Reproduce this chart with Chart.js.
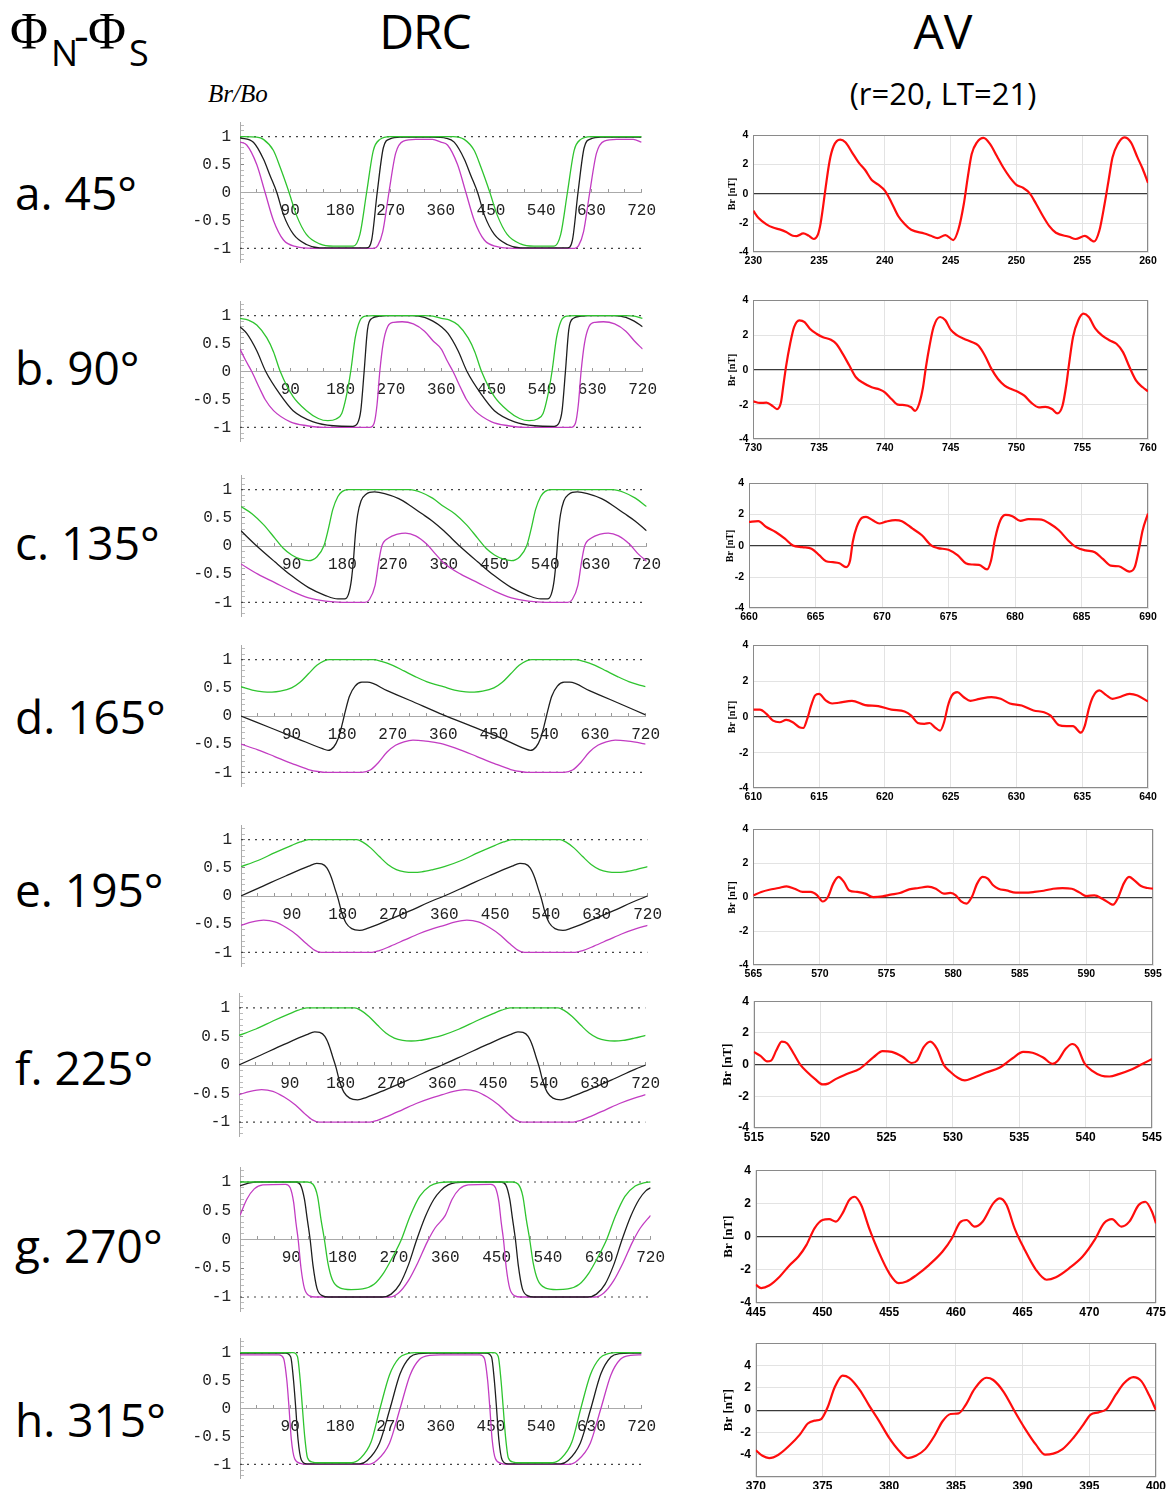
<!DOCTYPE html>
<html>
<head>
<meta charset="utf-8">
<script src="https://cdn.jsdelivr.net/npm/chart.js@4.4.1/dist/chart.umd.min.js"></script>
<style>
  body { margin: 0; background: #fff; }
  #page { position: relative; width: 1167px; height: 1489px; overflow: hidden; background: #fff; }
  .txt { position: absolute; font-family: "Open Sans", sans-serif; color: #000; line-height: 1; white-space: nowrap; }
  canvas { position: absolute; }
</style>
</head>
<body>
<div id="page">
  <div class="txt" style="left:10px; top:6px; font-family:'Liberation Serif'; font-size:52px;">Φ</div>
  <div class="txt" style="left:51px; top:35px; font-size:36px;">N</div>
  <div class="txt" style="left:74px; top:11px; font-size:46px;">-</div>
  <div class="txt" style="left:88px; top:6px; font-family:'Liberation Serif'; font-size:52px;">Φ</div>
  <div class="txt" style="left:129px; top:35px; font-size:36px;">S</div>
  <div class="txt" style="left:425px; top:7px; font-size:48px; letter-spacing:-1px; transform:translateX(-50%);">DRC</div>
  <div class="txt" style="left:943px; top:7px; font-size:48px; transform:translateX(-50%);">AV</div>
  <div class="txt" style="left:943px; top:78px; font-size:31px; transform:translateX(-50%);">(r=20, LT=21)</div>
  <div class="txt" style="left:208px; top:81px; font-family:'Liberation Serif'; font-style:italic; font-size:25px;">Br/Bo</div>
</div>
<script>
// ---- DRC curves, Br/Bo against phase (deg) ----
const greenA = [[0,1.0],[30,0.99],[42,0.95],[60,0.75],[72,0.45],[88,0],[101,-0.4],[119,-0.75],[143,-0.92],[167,-0.96],[203,-0.96],[215,-0.75],[227,0],[239,0.75],[251,0.95],[269,1.0],[382,1.0],[402,0.95],[420,0.75],[432,0.45],[448,0],[461,-0.4],[479,-0.75],[503,-0.92],[527,-0.96],[563,-0.96],[575,-0.75],[587,0],[599,0.75],[611,0.95],[629,1.0],[720,1.0]];
const blackA = [[0,0.98],[24,0.9],[42,0.6],[54,0.3],[66,0],[78,-0.4],[96,-0.75],[119,-0.93],[143,-0.99],[227,-0.99],[236,-0.85],[246,0],[257,0.8],[269,0.96],[287,0.99],[345,0.99],[370,0.97],[384,0.9],[402,0.6],[414,0.3],[426,0],[438,-0.4],[456,-0.75],[479,-0.93],[503,-0.99],[587,-0.99],[596,-0.85],[606,0],[617,0.8],[629,0.96],[647,0.99],[720,0.99]];
const magentaA = [[0,0.9],[12,0.85],[30,0.5],[45,0],[60,-0.5],[78,-0.85],[101,-0.97],[131,-1.0],[240,-1.0],[247,-0.95],[256,-0.7],[267,0],[279,0.7],[293,0.92],[315,0.95],[345,0.95],[360,0.9],[372,0.85],[390,0.5],[405,0],[420,-0.5],[438,-0.85],[461,-0.97],[491,-1.0],[600,-1.0],[607,-0.95],[616,-0.7],[627,0],[639,0.7],[653,0.92],[675,0.95],[705,0.95],[720,0.9]];

const greenB = [[0,0.95],[15,0.92],[30,0.83],[48,0.6],[60,0.35],[72,0],[95,-0.45],[119,-0.7],[140,-0.84],[157,-0.88],[172,-0.85],[182,-0.75],[190,-0.45],[198,0],[206,0.6],[214,0.9],[224,0.99],[240,1.0],[330,1.0],[345,0.99],[360,0.95],[375,0.92],[390,0.83],[408,0.6],[420,0.35],[432,0],[455,-0.45],[479,-0.7],[500,-0.84],[517,-0.88],[532,-0.85],[542,-0.75],[550,-0.45],[558,0],[566,0.6],[574,0.9],[584,0.99],[600,1.0],[690,1.0],[705,0.99],[720,0.95]];
const blackB = [[0,0.8],[12,0.68],[30,0.37],[46,0],[71,-0.4],[95,-0.7],[131,-0.9],[167,-0.97],[202,-0.98],[210,-0.93],[216,-0.7],[222,0],[228,0.75],[236,0.95],[250,0.99],[262,1.0],[309,1.0],[330,0.97],[345,0.9],[360,0.8],[372,0.68],[390,0.37],[406,0],[431,-0.4],[455,-0.7],[491,-0.9],[527,-0.97],[562,-0.98],[570,-0.93],[576,-0.7],[582,0],[588,0.75],[596,0.95],[610,0.99],[622,1.0],[669,1.0],[690,0.97],[705,0.9],[720,0.8]];
const magentaB = [[0,0.4],[10,0.2],[21,0],[35,-0.3],[45,-0.5],[60,-0.7],[90,-0.9],[120,-0.97],[150,-1.0],[232,-1.0],[240,-0.92],[245,-0.6],[250,0],[256,0.5],[264,0.8],[275,0.88],[290,0.89],[310,0.85],[330,0.72],[345,0.55],[360,0.4],[370,0.2],[381,0],[395,-0.3],[405,-0.5],[420,-0.7],[450,-0.9],[480,-0.97],[510,-1.0],[592,-1.0],[600,-0.92],[605,-0.6],[610,0],[616,0.5],[624,0.8],[635,0.88],[650,0.89],[670,0.85],[690,0.72],[705,0.55],[720,0.4]];

const greenC = [[0,0.7],[20,0.57],[40,0.38],[60,0.14],[75,-0.04],[90,-0.16],[105,-0.23],[120,-0.26],[135,-0.19],[147,0],[155,0.3],[163,0.65],[172,0.88],[180,0.97],[190,1.0],[300,1.0],[320,0.95],[340,0.85],[360,0.7],[380,0.57],[400,0.38],[420,0.14],[435,-0.04],[450,-0.16],[465,-0.23],[480,-0.26],[495,-0.19],[507,0],[515,0.3],[523,0.65],[532,0.88],[540,0.97],[550,1.0],[660,1.0],[680,0.95],[700,0.85],[720,0.7]];
const blackC = [[0,0.27],[28,0],[60,-0.28],[90,-0.53],[120,-0.74],[150,-0.88],[172,-0.94],[184,-0.94],[191,-0.85],[196,-0.6],[200,-0.2],[203,0.2],[207,0.55],[213,0.8],[222,0.92],[237,0.96],[255,0.93],[280,0.84],[300,0.72],[320,0.58],[340,0.44],[360,0.27],[388,0],[420,-0.28],[450,-0.53],[480,-0.74],[510,-0.88],[532,-0.94],[544,-0.94],[551,-0.85],[556,-0.6],[560,-0.2],[563,0.2],[567,0.55],[573,0.8],[582,0.92],[597,0.96],[615,0.93],[640,0.84],[660,0.72],[680,0.58],[700,0.44],[720,0.27]];
const magentaC = [[0,-0.32],[30,-0.5],[60,-0.65],[90,-0.8],[120,-0.92],[150,-0.98],[180,-1.0],[220,-1.0],[228,-0.95],[238,-0.7],[245,-0.25],[250,0],[262,0.14],[278,0.21],[292,0.23],[310,0.18],[330,0.03],[345,-0.14],[360,-0.3],[390,-0.5],[420,-0.65],[450,-0.8],[480,-0.92],[510,-0.98],[540,-1.0],[580,-1.0],[588,-0.95],[598,-0.7],[605,-0.25],[610,0],[622,0.14],[638,0.21],[652,0.23],[670,0.18],[690,0.03],[705,-0.14],[720,-0.27]];

const greenD = [[0,0.52],[20,0.46],[40,0.43],[55,0.425],[70,0.44],[90,0.5],[105,0.6],[120,0.75],[135,0.9],[148,0.98],[158,1.0],[235,1.0],[250,0.97],[270,0.9],[290,0.8],[310,0.7],[330,0.61],[345,0.56],[360,0.52],[380,0.46],[400,0.43],[415,0.425],[430,0.44],[450,0.5],[465,0.6],[480,0.75],[495,0.9],[508,0.98],[518,1.0],[595,1.0],[610,0.97],[630,0.9],[650,0.8],[670,0.7],[690,0.61],[705,0.56],[720,0.52]];
const blackD = [[0,0.0],[50,-0.2],[100,-0.4],[145,-0.58],[155,-0.61],[165,-0.55],[173,-0.4],[180,-0.15],[186,0.1],[193,0.35],[203,0.53],[215,0.6],[225,0.6],[260,0.45],[300,0.28],[360,0.02],[410,-0.18],[460,-0.38],[505,-0.58],[515,-0.61],[525,-0.55],[533,-0.4],[540,-0.15],[546,0.1],[553,0.35],[563,0.53],[575,0.6],[585,0.6],[620,0.45],[660,0.28],[720,0.02]];
const magentaD = [[0,-0.5],[30,-0.6],[60,-0.72],[90,-0.84],[120,-0.95],[140,-0.99],[150,-1.0],[215,-1.0],[230,-0.96],[245,-0.82],[260,-0.64],[275,-0.52],[290,-0.46],[306,-0.43],[325,-0.44],[345,-0.47],[360,-0.5],[390,-0.6],[420,-0.72],[450,-0.84],[480,-0.95],[500,-0.99],[510,-1.0],[575,-1.0],[590,-0.96],[605,-0.82],[620,-0.64],[635,-0.52],[650,-0.46],[666,-0.43],[685,-0.44],[705,-0.47],[720,-0.5]];

// rows e and f carry the same three curves
const greenE = [[0,0.52],[30,0.63],[60,0.77],[90,0.9],[105,0.96],[120,1.0],[205,1.0],[215,0.96],[230,0.85],[245,0.7],[260,0.56],[275,0.47],[290,0.43],[305,0.42],[320,0.43],[340,0.47],[360,0.52],[390,0.63],[420,0.77],[450,0.9],[465,0.96],[480,1.0],[565,1.0],[575,0.96],[590,0.85],[605,0.7],[620,0.56],[635,0.47],[650,0.43],[665,0.42],[680,0.43],[700,0.47],[720,0.52]];
const blackE = [[0,0.0],[40,0.18],[80,0.36],[120,0.53],[134,0.58],[143,0.57],[152,0.5],[160,0.33],[166,0.14],[172,-0.05],[178,-0.28],[186,-0.48],[196,-0.58],[210,-0.61],[225,-0.57],[260,-0.43],[300,-0.26],[340,-0.08],[360,0.0],[400,0.18],[440,0.36],[480,0.53],[494,0.58],[503,0.57],[512,0.5],[520,0.33],[526,0.14],[532,-0.05],[538,-0.28],[546,-0.48],[556,-0.58],[570,-0.61],[585,-0.57],[620,-0.43],[660,-0.26],[700,-0.08],[720,0.0]];
const magentaE = [[0,-0.52],[20,-0.46],[40,-0.43],[60,-0.46],[80,-0.56],[100,-0.7],[115,-0.84],[130,-0.96],[142,-1.0],[232,-1.0],[245,-0.97],[265,-0.89],[290,-0.78],[315,-0.67],[340,-0.58],[360,-0.52],[380,-0.46],[400,-0.43],[420,-0.46],[440,-0.56],[460,-0.7],[475,-0.84],[490,-0.96],[502,-1.0],[592,-1.0],[605,-0.97],[625,-0.89],[650,-0.78],[675,-0.67],[700,-0.58],[720,-0.52]];

const greenG = [[0,1.0],[118,1.0],[128,0.96],[136,0.75],[142,0.35],[148,0],[154,-0.4],[162,-0.7],[175,-0.84],[195,-0.87],[215,-0.86],[235,-0.78],[252,-0.58],[268,-0.3],[283,0],[298,0.4],[315,0.75],[333,0.93],[350,0.99],[365,1.0],[478,1.0],[488,0.96],[496,0.75],[502,0.35],[508,0],[514,-0.4],[522,-0.7],[535,-0.84],[555,-0.87],[575,-0.86],[595,-0.78],[612,-0.58],[628,-0.3],[643,0],[658,0.4],[675,0.75],[693,0.93],[710,0.99],[720,1.0]];
const blackG = [[0,0.93],[15,0.98],[30,1.0],[98,1.0],[106,0.95],[113,0.7],[118,0.35],[123,0],[128,-0.45],[135,-0.85],[145,-0.98],[155,-1.0],[250,-1.0],[265,-0.95],[280,-0.78],[295,-0.45],[310,0],[325,0.4],[340,0.7],[352,0.85],[365,0.95],[380,0.99],[395,1.0],[458,1.0],[466,0.95],[473,0.7],[478,0.35],[483,0],[488,-0.45],[495,-0.85],[505,-0.98],[515,-1.0],[610,-1.0],[625,-0.95],[640,-0.78],[655,-0.45],[670,0],[685,0.4],[700,0.7],[712,0.85],[720,0.9]];
const magentaG = [[0,0.42],[12,0.7],[25,0.88],[40,0.95],[80,0.96],[88,0.9],[94,0.65],[98,0.3],[102,0],[107,-0.5],[113,-0.85],[122,-0.98],[132,-1.0],[262,-1.0],[278,-0.93],[295,-0.72],[312,-0.4],[328,-0.05],[342,0.2],[360,0.42],[372,0.7],[385,0.88],[400,0.95],[440,0.96],[448,0.9],[454,0.65],[458,0.3],[462,0],[467,-0.5],[473,-0.85],[482,-0.98],[492,-1.0],[622,-1.0],[638,-0.93],[655,-0.72],[672,-0.4],[688,-0.05],[702,0.2],[720,0.42]];

const greenH = [[0,1.0],[95,1.0],[103,0.93],[108,0.5],[112,0],[116,-0.5],[121,-0.88],[130,-0.96],[140,-0.97],[200,-0.97],[215,-0.9],[235,-0.6],[251,0],[268,0.6],[285,0.9],[300,0.98],[315,1.0],[455,1.0],[463,0.93],[468,0.5],[472,0],[476,-0.5],[481,-0.88],[490,-0.96],[500,-0.97],[560,-0.97],[575,-0.9],[595,-0.6],[611,0],[628,0.6],[645,0.9],[660,0.98],[675,1.0],[720,1.0]];
const blackH = [[0,0.99],[82,0.99],[91,0.92],[96,0.5],[100,0],[104,-0.55],[110,-0.92],[120,-0.99],[215,-0.99],[228,-0.93],[250,-0.62],[269,0],[287,0.62],[305,0.92],[320,0.98],[340,0.99],[442,0.99],[451,0.92],[456,0.5],[460,0],[464,-0.55],[470,-0.92],[480,-0.99],[575,-0.99],[588,-0.93],[610,-0.62],[629,0],[647,0.62],[665,0.92],[680,0.98],[700,0.99],[720,0.99]];
const magentaH = [[0,0.96],[70,0.96],[78,0.9],[84,0.5],[88,0],[92,-0.55],[98,-0.9],[108,-0.98],[118,-1.0],[230,-1.0],[245,-0.93],[268,-0.62],[287,0],[305,0.6],[322,0.88],[340,0.95],[360,0.96],[430,0.96],[438,0.9],[444,0.5],[448,0],[452,-0.55],[458,-0.9],[468,-0.98],[478,-1.0],[590,-1.0],[605,-0.93],[628,-0.62],[647,0],[665,0.6],[682,0.88],[700,0.95],[720,0.96]];

const refLevels = [1, -1];
const drcXLabels = [90, 180, 270, 360, 450, 540, 630, 720];
const drcYLabels = [-1, -0.5, 0, 0.5, 1];

// ---- AV traces, Br [nT] against time ----
const avStart = [230, 730, 660, 610, 565, 515, 445, 370];
const avA = [[230,-1.15],[230.4,-1.65],[231,-2.08],[231.5,-2.3],[232,-2.42],[232.5,-2.6],[233,-2.86],[233.3,-2.88],[233.8,-2.7],[234.2,-2.85],[234.6,-3.08],[234.9,-2.8],[235.1,-2.1],[235.3,-0.9],[235.5,0.45],[235.8,2.25],[236.1,3.25],[236.6,3.7],[237,3.52],[237.5,2.84],[238,2.15],[238.5,1.63],[239,0.95],[239.5,0.63],[240,0.22],[240.5,-0.58],[241,-1.49],[241.5,-2.06],[242,-2.45],[243,-2.7],[243.5,-2.86],[244,-3.02],[244.6,-2.81],[245.2,-3.15],[245.6,-2.4],[246,-0.69],[246.3,1.13],[246.6,2.72],[247,3.52],[247.5,3.82],[248,3.4],[248.5,2.6],[249,1.8],[249.5,1.13],[250,0.62],[250.5,0.42],[251,0.05],[251.5,-0.69],[252,-1.49],[252.5,-2.2],[253,-2.65],[254,-2.93],[254.5,-3.08],[255.2,-2.86],[255.9,-3.25],[256.3,-2.52],[256.7,-0.69],[257,0.9],[257.3,2.49],[257.7,3.4],[258.2,3.86],[258.7,3.52],[259.2,2.49],[259.6,1.7],[260,0.75]];
const avB = [[730,-1.81],[730.5,-1.9],[731,-1.88],[731.5,-2.1],[731.8,-2.25],[732.1,-1.87],[732.3,-0.81],[732.5,0.25],[732.8,1.5],[733.1,2.46],[733.5,2.85],[733.9,2.75],[734.3,2.37],[734.8,2.08],[735.3,1.88],[735.9,1.73],[736.3,1.5],[736.8,0.92],[737.3,0.25],[737.8,-0.42],[738.4,-0.77],[739,-1.0],[739.6,-1.13],[740,-1.29],[740.5,-1.67],[741,-2.0],[741.5,-2.02],[742,-2.15],[742.3,-2.35],[742.6,-1.96],[742.9,-1.0],[743.1,0.06],[743.4,1.4],[743.7,2.46],[744.2,3.04],[744.6,2.85],[745,2.31],[745.5,1.98],[746,1.79],[746.6,1.6],[747.1,1.4],[747.6,0.83],[748.1,0.06],[748.6,-0.52],[749.1,-0.9],[749.6,-1.1],[750.1,-1.25],[750.6,-1.48],[751.1,-1.87],[751.7,-2.15],[752.2,-2.12],[752.7,-2.25],[753.1,-2.5],[753.5,-2.06],[753.8,-0.81],[754,0.35],[754.3,1.88],[754.7,2.85],[755.1,3.23],[755.5,3.04],[756,2.37],[756.5,1.98],[757.1,1.69],[757.6,1.5],[758.1,1.02],[758.6,0.15],[759.1,-0.62],[759.6,-1.0],[760,-1.23]];
const avC = [[660,1.53],[660.7,1.58],[661.3,1.21],[662,0.89],[662.7,0.46],[663.3,0.03],[664,-0.08],[664.7,-0.18],[665.3,-0.61],[665.8,-0.98],[666.3,-1.04],[666.8,-1.11],[667.3,-1.36],[667.6,-0.93],[667.8,0.25],[668.1,1.21],[668.5,1.8],[668.8,1.85],[669.3,1.64],[669.8,1.43],[670.3,1.55],[671,1.65],[671.5,1.58],[672.3,1.1],[673,0.68],[673.7,0.03],[674.2,-0.14],[675,-0.25],[675.7,-0.61],[676.3,-1.11],[676.8,-1.19],[677.3,-1.21],[677.9,-1.5],[678.2,-0.93],[678.5,0.46],[678.9,1.64],[679.3,1.98],[679.8,1.9],[680.4,1.6],[681,1.71],[682,1.68],[682.6,1.43],[683.3,1.0],[684,0.35],[684.6,-0.08],[685.3,-0.29],[686,-0.4],[686.6,-0.83],[687.2,-1.26],[687.8,-1.3],[688.6,-1.64],[689,-1.36],[689.3,-0.29],[689.6,1.0],[690,2.07]];
const avD = [[610,0.41],[610.5,0.41],[611,0.17],[611.5,-0.21],[612,-0.3],[612.5,-0.17],[613,-0.3],[613.5,-0.58],[613.8,-0.62],[614.1,-0.11],[614.4,0.64],[614.7,1.2],[615,1.29],[615.5,0.92],[616,0.75],[616.5,0.79],[617.5,0.9],[618.5,0.66],[619.5,0.6],[620.5,0.41],[621.5,0.3],[622,0.07],[622.5,-0.34],[623,-0.39],[623.4,-0.34],[623.8,-0.58],[624.2,-0.77],[624.5,-0.3],[624.8,0.64],[625.1,1.2],[625.5,1.38],[626,1.1],[626.5,0.9],[627.2,1.01],[628.1,1.1],[628.8,1.01],[629.5,0.75],[630.4,0.64],[631.3,0.36],[632.1,0.26],[632.6,0.07],[633.2,-0.45],[633.8,-0.52],[634.3,-0.52],[634.9,-0.88],[635.2,-0.49],[635.5,0.45],[635.8,1.1],[636.3,1.48],[636.8,1.23],[637.3,1.01],[637.8,1.1],[638.6,1.29],[639.2,1.2],[640,0.86]];
const avE = [[565,0.12],[565.6,0.32],[566.2,0.45],[566.9,0.55],[567.5,0.65],[568.1,0.51],[568.7,0.32],[569.3,0.32],[569.8,0.12],[570.2,-0.24],[570.6,0.02],[571,0.81],[571.4,1.2],[571.8,0.91],[572.2,0.41],[572.8,0.32],[573.4,0.22],[574,0.02],[574.7,0.06],[575.3,0.16],[576,0.26],[576.7,0.47],[577.4,0.55],[578.1,0.63],[578.7,0.51],[579.3,0.22],[579.8,0.26],[580.2,0.12],[580.6,-0.24],[581,-0.37],[581.4,0.02],[581.8,0.81],[582.2,1.2],[582.6,1.1],[583,0.71],[583.4,0.51],[584,0.41],[584.7,0.28],[585.4,0.28],[586.1,0.32],[586.8,0.39],[587.5,0.51],[588.2,0.55],[588.9,0.51],[589.5,0.28],[590,0.08],[590.6,0.12],[591.2,-0.08],[591.8,-0.37],[592,-0.43],[592.4,0.02],[592.8,0.81],[593.2,1.2],[593.6,1.0],[594.1,0.67],[594.6,0.55],[595,0.51]];
const avF = [[515,0.8],[515.5,0.55],[516,0.2],[516.3,0.25],[516.7,0.9],[517.1,1.45],[517.5,1.35],[518,0.7],[518.5,0.0],[519,-0.45],[519.6,-0.9],[520.2,-1.25],[520.6,-1.2],[521.2,-0.9],[522,-0.6],[523,-0.25],[524,0.45],[524.7,0.85],[525.4,0.8],[526.2,0.5],[526.9,0.1],[527.3,0.25],[527.8,1.1],[528.3,1.45],[528.8,1.0],[529.3,0.0],[529.8,-0.45],[530.4,-0.85],[530.9,-1.0],[531.5,-0.85],[532.5,-0.5],[533.5,-0.2],[534.5,0.4],[535.3,0.8],[536,0.75],[536.8,0.45],[537.5,0.05],[537.9,0.25],[538.5,1.0],[539,1.3],[539.4,1.05],[539.9,0.1],[540.5,-0.4],[541.2,-0.7],[541.8,-0.75],[542.5,-0.6],[543.5,-0.3],[544.3,0.05],[545,0.35]];
const avG = [[445,-2.9],[445.4,-3.1],[446,-2.95],[446.8,-2.4],[447.5,-1.75],[448.2,-1.2],[448.8,-0.5],[449.4,0.5],[450,1.0],[450.5,1.05],[451,0.9],[451.5,1.4],[452,2.2],[452.4,2.4],[452.9,1.9],[453.5,0.5],[454.2,-0.9],[455,-2.2],[455.7,-2.8],[456.3,-2.7],[457,-2.35],[458,-1.7],[459,-0.9],[459.7,-0.1],[460.3,0.85],[460.8,1.0],[461.4,0.6],[462,0.9],[462.8,2.0],[463.3,2.3],[463.8,1.9],[464.4,0.5],[465.1,-0.7],[466,-2.0],[466.8,-2.6],[467.5,-2.45],[468.5,-1.9],[469.5,-1.2],[470.4,-0.2],[471.1,0.8],[471.7,1.05],[472.4,0.6],[473,0.9],[473.7,1.9],[474.2,2.1],[474.7,1.5],[475,0.8]];
const avH = [[370,-3.6],[370.5,-4.1],[371,-4.3],[371.7,-4.0],[372.5,-3.2],[373.3,-2.2],[373.9,-1.2],[374.4,-0.95],[374.9,-0.8],[375.4,0.3],[375.9,2.0],[376.5,3.1],[377,2.9],[377.8,1.8],[378.5,0.4],[379.2,-0.9],[380,-2.5],[380.7,-3.6],[381.4,-4.3],[382,-4.1],[382.7,-3.5],[383.4,-2.3],[384,-1.0],[384.6,-0.35],[385.2,-0.3],[385.7,0.4],[386.4,1.9],[387.3,2.9],[387.8,2.7],[388.6,1.6],[389.4,-0.1],[390.2,-1.7],[391,-3.1],[391.7,-4.0],[392.3,-3.9],[393,-3.5],[393.8,-2.5],[394.5,-1.4],[395.1,-0.4],[395.7,-0.2],[396.3,0.1],[397,1.4],[397.6,2.4],[398.3,2.95],[398.9,2.6],[399.5,1.3],[400,0]];

// ---- page layout, one entry per row ----
const rows = [
  { label: 'a. 45°',  labelY: 193,  drc: { x0: 240, x1: 642, y1: 137,  ym1: 249 },  curves: [greenA, blackA, magentaA], av: { l: 753, r: 1148, t: 135,  b: 252,  lim: 4, titleX: 731.7, big: false }, br: avA },
  { label: 'b. 90°',  labelY: 368,  drc: { x0: 240, x1: 643, y1: 316,  ym1: 428 },  curves: [greenB, blackB, magentaB], av: { l: 753, r: 1148, t: 300,  b: 439,  lim: 4, titleX: 731.7, big: false }, br: avB },
  { label: 'c. 135°', labelY: 543,  drc: { x0: 241, x1: 647, y1: 490,  ym1: 603 },  curves: [greenC, blackC, magentaC], av: { l: 749, r: 1148, t: 483,  b: 608,  lim: 4, titleX: 730,   big: false }, br: avC },
  { label: 'd. 165°', labelY: 717,  drc: { x0: 241, x1: 646, y1: 660,  ym1: 773 },  curves: [greenD, blackD, magentaD], av: { l: 753, r: 1148, t: 645,  b: 788,  lim: 4, titleX: 731.7, big: false }, br: avD },
  { label: 'e. 195°', labelY: 890,  drc: { x0: 241, x1: 648, y1: 840,  ym1: 953 },  curves: [greenE, blackE, magentaE], av: { l: 753, r: 1153, t: 829,  b: 965,  lim: 4, titleX: 731.7, big: false }, br: avE },
  { label: 'f. 225°', labelY: 1068, drc: { x0: 239, x1: 646, y1: 1008, ym1: 1122 }, curves: [greenE, blackE, magentaE], av: { l: 754, r: 1152, t: 1001, b: 1128, lim: 4, titleX: 728,   big: true },  br: avF },
  { label: 'g. 270°', labelY: 1246, drc: { x0: 240, x1: 651, y1: 1182, ym1: 1297 }, curves: [greenG, blackG, magentaG], av: { l: 756, r: 1156, t: 1170, b: 1303, lim: 4, titleX: 729,   big: true },  br: avG },
  { label: 'h. 315°', labelY: 1420, drc: { x0: 240, x1: 642, y1: 1353, ym1: 1465 }, curves: [greenH, blackH, magentaH], av: { l: 756, r: 1156, t: 1343, b: 1477, lim: 6, titleX: 729,   big: true },  br: avH }
];

const page = document.getElementById('page');
const pts = arr => arr.map(p => ({ x: p[0], y: p[1] }));

function makeCanvas(l, t, w, h) {
  const c = document.createElement('canvas');
  c.width = Math.round(w);
  c.height = Math.round(h);
  c.style.left = Math.round(l) + 'px';
  c.style.top = Math.round(t) + 'px';
  c.style.width = c.width + 'px';
  c.style.height = c.height + 'px';
  page.appendChild(c);
  return c;
}

// Build a chart so that its plot area lands on the wanted page box:
// first pass measures the margins Chart.js leaves round the plot area,
// second pass sizes the canvas with them.
function placeChart(makeConfig, want, guess) {
  let m = guess;
  let chart = null;
  for (let pass = 0; pass < 3; pass++) {
    const cv = makeCanvas(want.left - m.l, want.top - m.t,
      want.right - want.left + m.l + m.r, want.bottom - want.top + m.t + m.b);
    chart = new Chart(cv, makeConfig());
    const a = chart.chartArea;
    const got = { l: a.left, t: a.top, r: cv.width - a.right, b: cv.height - a.bottom };
    const err = Math.abs(got.l - m.l) + Math.abs(got.t - m.t) + Math.abs(got.r - m.r) + Math.abs(got.b - m.b);
    if (err < 1 || pass === 2) break;
    m = got;
    chart.destroy();
    cv.remove();
  }
  return chart;
}

// tick positions for the Mathematica style axes
const drcXTicks = [];
for (let d = 30; d <= 720; d += 30) drcXTicks.push(d);
const drcYTicks = [];
for (let i = -12; i <= 12; i++) drcYTicks.push(i / 10);
const isHalf = v => Math.abs(v * 2 - Math.round(v * 2)) < 1e-6;

const PAD = 20, DRC_YW = 60;
const monoFont = { family: '"Liberation Mono", "DejaVu Sans Mono", monospace', size: 16 };

function drcChart(box, curves) {
  const unit = (box.ym1 - box.y1) / 2;
  const want = { left: box.x0, right: box.x1, top: box.y1 - 0.25 * unit, bottom: box.ym1 + 0.25 * unit };
  const colors = ['#2fc42f', '#1e1e1e', '#c23cc2'];
  const makeConfig = () => {
    const datasets = curves.map((c, i) => ({
      data: pts(c), borderColor: colors[i], borderWidth: 1.3, pointRadius: 0,
      cubicInterpolationMode: 'monotone', fill: false
    }));
    refLevels.forEach(v => datasets.push({
      data: [{ x: 0, y: v }, { x: 720, y: v }], borderColor: '#444', borderWidth: 1.2,
      borderDash: [2, 5], pointRadius: 0, fill: false
    }));
    return {
      type: 'line',
      data: { datasets },
      options: {
        animation: false, responsive: false, devicePixelRatio: 1, events: [],
        layout: { padding: PAD },
        plugins: { legend: { display: false }, tooltip: { enabled: false } },
        scales: {
          x: {
            type: 'linear', min: 0, max: 720, position: { y: 0 },
            afterBuildTicks: s => { s.ticks = drcXTicks.map(v => ({ value: v })); },
            ticks: { autoSkip: false, maxRotation: 0, padding: 13, color: '#222', font: monoFont,
                     callback: v => drcXLabels.includes(v) ? String(v) : '' },
            grid: { drawOnChartArea: false, drawTicks: true, tickLength: -4, color: '#999' },
            border: { color: '#aaa', width: 1 }
          },
          y: {
            min: -1.25, max: 1.25,
            afterFit: s => { s.width = DRC_YW; },
            afterBuildTicks: s => { s.ticks = drcYTicks.map(v => ({ value: v })); },
            ticks: { autoSkip: false, padding: 13, color: '#222', font: monoFont,
                     callback: v => drcYLabels.some(l => Math.abs(l - v) < 1e-6) ? String(v) : '' },
            grid: { drawOnChartArea: false, drawTicks: true, tickLength: -4,
                    color: c => isHalf(c.tick.value) ? '#888' : '#bbb' },
            border: { color: '#aaa', width: 1 }
          }
        }
      }
    };
  };
  placeChart(makeConfig, want, { l: PAD + DRC_YW, t: PAD, r: PAD, b: PAD });
}

// grey box round the AV plot area
const frameBox = {
  id: 'frameBox',
  beforeDatasetsDraw(chart) {
    const { ctx, chartArea: a } = chart;
    ctx.save();
    ctx.strokeStyle = '#8a8a8a';
    ctx.lineWidth = 1;
    ctx.strokeRect(Math.round(a.left) + 0.5, Math.round(a.top) + 0.5, Math.round(a.width) - 1, Math.round(a.height) - 1);
    ctx.restore();
  }
};

function avChart(spec, data, x0) {
  const titleSize = spec.big ? 13 : 10;
  const fontSize = spec.big ? 12 : 10.5;
  const YW = spec.l - spec.titleX + 0.6 * titleSize;
  const XH = fontSize + 5;
  const pad = { left: 4, right: 14, top: 8, bottom: 2 };
  const tickFont = { family: '"Liberation Sans", Arial, sans-serif', weight: 'bold', size: fontSize };
  const makeConfig = () => ({
    type: 'line',
    data: { datasets: [{ data: pts(data), borderColor: '#ff0d0d', borderWidth: 2.2, pointRadius: 0,
                         cubicInterpolationMode: 'monotone', fill: false }] },
    options: {
      animation: false, responsive: false, devicePixelRatio: 1, events: [],
      layout: { padding: pad },
      plugins: { legend: { display: false }, tooltip: { enabled: false } },
      scales: {
        x: {
          type: 'linear', min: x0, max: x0 + 30,
          afterFit: s => { s.height = XH; },
          ticks: { stepSize: 5, padding: 2, maxRotation: 0, autoSkip: false, color: '#000', font: tickFont,
                   callback: v => String(v) },
          grid: { color: '#e3e3e3', drawTicks: false },
          border: { display: false }
        },
        y: {
          min: -spec.lim, max: spec.lim,
          afterFit: s => { s.width = YW; },
          ticks: { stepSize: 2, padding: 5, color: '#000', font: tickFont,
                   callback: v => Math.abs(v) > 4 ? '' : String(v) },
          grid: { color: c => c.tick.value === 0 ? '#3a3a3a' : '#e3e3e3',
                  lineWidth: c => c.tick.value === 0 ? 1.2 : 1, drawTicks: false },
          border: { display: false },
          title: { display: true, text: 'Br [nT]', padding: 0, color: '#000',
                   font: { family: '"Liberation Serif", serif', weight: 'bold', size: titleSize } }
        }
      }
    },
    plugins: [frameBox]
  });
  placeChart(makeConfig, { left: spec.l, right: spec.r, top: spec.t, bottom: spec.b },
    { l: pad.left + YW, t: pad.top, r: pad.right, b: pad.bottom + XH });
}

rows.forEach((row, i) => {
  const lab = document.createElement('div');
  lab.className = 'txt';
  lab.textContent = row.label;
  lab.style.left = '15px';
  lab.style.fontSize = '46px';
  lab.style.top = (row.labelY - 24) + 'px';
  page.appendChild(lab);

  drcChart(row.drc, row.curves);
  avChart(row.av, row.br, avStart[i]);
});
</script>
</body>
</html>
